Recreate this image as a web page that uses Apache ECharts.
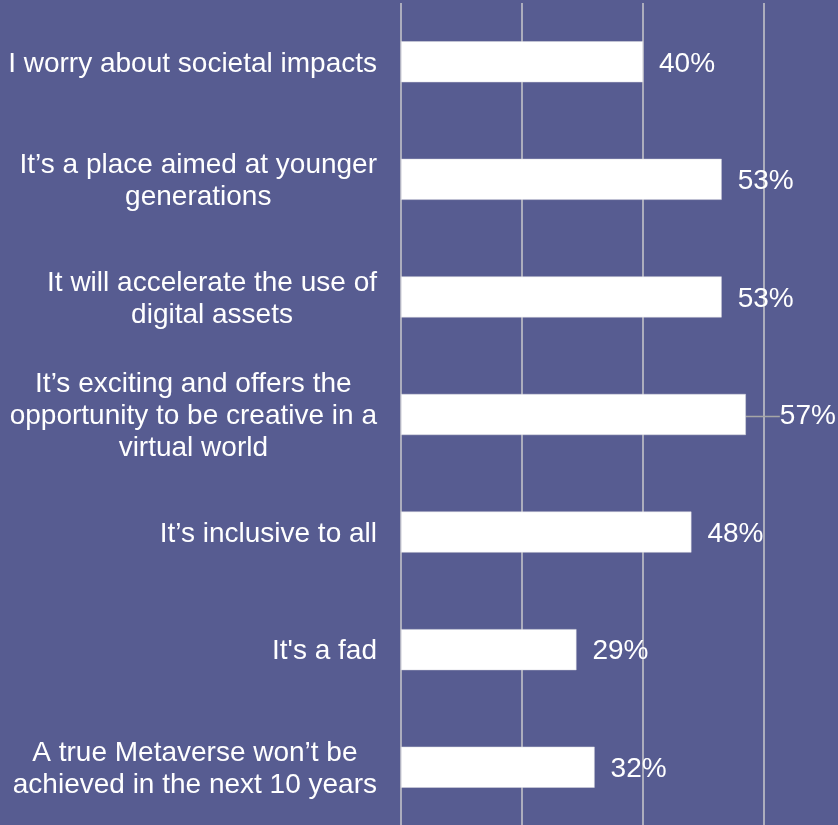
<!DOCTYPE html>
<html>
<head>
<meta charset="utf-8">
<style>
  html, body { margin: 0; padding: 0; background: #575C91; }
  #chart { width: 838px; height: 825px; }
</style>
<script src="https://cdn.jsdelivr.net/npm/echarts@6/dist/echarts.min.js"></script>
</head>
<body>
<div id="chart"></div>
<script>
// Survey statements about the Metaverse, top to bottom
const categories = [
  "I worry about societal impacts",
  "It\u2019s a place aimed at younger\ngenerations",
  "It will accelerate the use of\ndigital assets",
  "It\u2019s exciting and offers the\nopportunity to be creative in a\nvirtual world",
  "It\u2019s inclusive to all",
  "It's a fad",
  "A true Metaverse won\u2019t be\nachieved in the next 10 years"
];
// Share of respondents agreeing (percent)
const values = [40, 53, 53, 57, 48, 29, 32];
// Value axis gridline positions (percent)
const axisTicks = [0, 20, 40, 60, 80];

const chart = echarts.init(document.getElementById('chart'));
const font = "'Liberation Sans', Arial, sans-serif";

// The 57% label is nudged right and tied back to its bar with a leader line
const barData = values.map(function (v, i) {
  return i === 3 ? { value: v, labelLine: { show: true } } : v;
});

chart.setOption({
  backgroundColor: '#575C91',
  animation: false,
  grid: { left: 401, top: 3, right: -47, height: 823, containLabel: false, outerBoundsMode: 'none' },
  xAxis: {
    type: 'value',
    min: axisTicks[0],
    max: axisTicks[axisTicks.length - 1],
    interval: axisTicks[1] - axisTicks[0],
    axisLabel: { show: false },
    axisLine: { show: false },
    axisTick: { show: false },
    splitLine: { show: true, lineStyle: { color: '#C9C9CC', width: 1.5 } }
  },
  yAxis: {
    type: 'category',
    data: categories,
    inverse: true,
    axisLine: { show: false },
    axisTick: { show: false },
    axisLabel: {
      margin: 24,
      align: 'right',
      padding: [4, 0, 0, 0],
      color: '#FFFFFF',
      fontFamily: font,
      fontSize: 28,
      lineHeight: 32,
      formatter: function (v) {
        return v.split('\n').map(function (l) { return '{c|' + l + '}'; }).join('\n');
      },
      rich: {
        c: { align: 'center', color: '#FFFFFF', fontFamily: font, fontSize: 28, lineHeight: 32 }
      }
    }
  },
  series: [{
    type: 'bar',
    data: barData,
    barWidth: 41,
    itemStyle: { color: '#FFFFFF', borderColor: '#D8D8E0', borderWidth: 0.5 },
    label: {
      show: true,
      position: 'right',
      distance: 16,
      color: '#FFFFFF',
      fontFamily: font,
      fontSize: 28,
      formatter: '{c}%'
    },
    labelLine: { show: false, lineStyle: { color: '#A6A6A6', width: 1.5 } },
    labelLayout: function (params) {
      return { dx: params.dataIndex === 3 ? 18 : 0, dy: 2 };
    }
  }]
});
</script>
</body>
</html>
